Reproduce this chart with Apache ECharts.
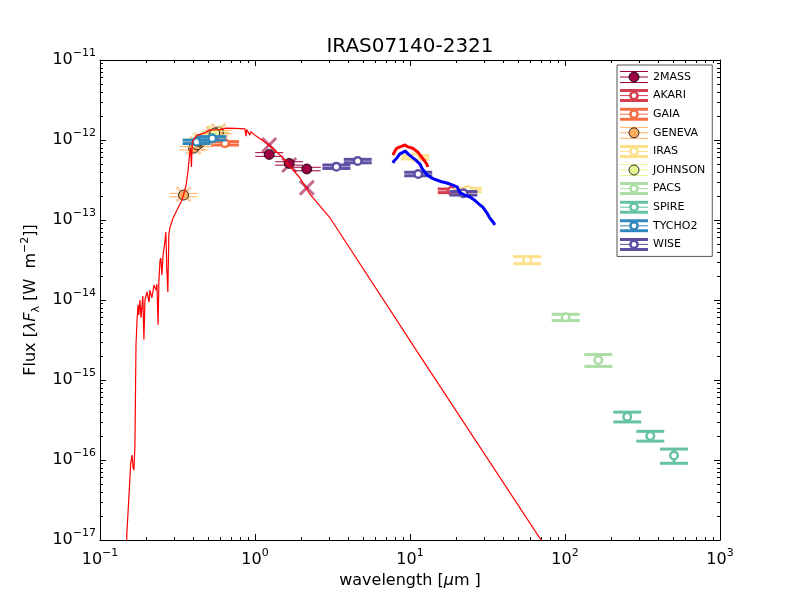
<!DOCTYPE html>
<html>
<head>
<meta charset="utf-8">
<title>IRAS07140-2321</title>
<script src="https://cdn.jsdelivr.net/npm/echarts@6/dist/echarts.min.js"></script>
<style>
html, body { margin: 0; padding: 0; background: #fff; }
#main { width: 800px; height: 600px; }
</style>
</head>
<body>
<div id="main"></div>
<script>
// model SED (thin red line), wavelength in micron, flux in W m-2
var modelWave = [0.147, 0.149, 0.1545, 0.1578, 0.161, 0.1635, 0.1655, 0.168, 0.1707, 0.1734,
  0.176, 0.178, 0.181, 0.184, 0.189, 0.192, 0.195, 0.201, 0.207, 0.210,
  0.216, 0.223, 0.230, 0.233, 0.237, 0.240, 0.244, 0.247, 0.251, 0.255,
  0.263, 0.266, 0.270, 0.274, 0.278, 0.282, 0.296, 0.314, 0.338, 0.359,
  0.369, 0.378, 0.384, 0.389, 0.394, 0.397, 0.422, 0.461, 0.511, 0.594,
  0.649, 0.75, 0.862, 0.875, 0.885, 0.91, 0.925, 0.94, 1.0, 1.11,
  1.25, 1.45, 1.68, 1.95, 2.26, 3.05, 11.6, 100];
var modelFlux = [5e-18, 1.2e-17, 4.2e-17, 9.1e-17, 1.15e-16, 8.0e-17, 7.5e-17, 1.5e-16, 2.74e-15, 5.6e-15,
  8.7e-15, 6.5e-15, 1.0e-14, 6.0e-15, 1.12e-14, 3.2e-15, 1.0e-14, 1.26e-14, 9.4e-15, 1.33e-14,
  1.06e-14, 1.54e-14, 1.33e-14, 1.58e-14, 4.9e-15, 1.78e-14, 3.16e-14, 3.35e-14, 2.05e-14, 3.6e-14,
  5.6e-14, 7.1e-14, 2.37e-14, 1.26e-14, 6.5e-14, 7.9e-14, 1.06e-13, 1.33e-13, 1.78e-13, 2.7e-13,
  4.0e-13, 6.5e-13, 8.0e-13, 4.6e-13, 9.5e-13, 1.0e-12, 1.15e-12, 1.2e-12, 1.33e-12, 1.35e-12,
  1.41e-12, 1.4e-12, 1.38e-12, 1.12e-12, 1.35e-12, 1.3e-12, 1.15e-12, 1.27e-12, 1.15e-12, 1.0e-12,
  8.4e-13, 6.5e-13, 4.7e-13, 3.35e-13, 2.1e-13, 1.06e-13, 2.0e-15, 3.5e-18];

// IR spectra
var specBlueWave = [7.76, 7.9, 8.24, 8.6, 9.0, 9.29, 9.5, 9.71, 10.3, 10.9,
  11.6, 11.9, 12.4, 12.9, 13.8, 14.9, 16.0, 17.3, 18.7, 20.1,
  21.0, 22.5, 24.4, 26.3, 28.3, 29.5, 31.4, 32.5, 33.5, 34.5, 35.3];
var specBlueFlux = [5.16e-13, 5.5e-13, 5.96e-13, 6.7e-13, 7.0e-13, 7.3e-13, 7.0e-13, 6.7e-13, 6.1e-13, 5.6e-13,
  5.0e-13, 4.5e-13, 4.0e-13, 3.65e-13, 3.35e-13, 3.16e-13, 3.0e-13, 2.9e-13, 2.75e-13, 2.6e-13,
  2.2e-13, 2.05e-13, 1.94e-13, 1.75e-13, 1.54e-13, 1.45e-13, 1.22e-13, 1.08e-13, 1.0e-13, 9.3e-14, 8.7e-14];
var specRedWave = [7.76, 8.0, 8.24, 8.8, 9.29, 9.71, 10.4, 11.2, 11.9, 12.4, 12.9, 13.0];
var specRedFlux = [6.5e-13, 7.3e-13, 7.9e-13, 8.3e-13, 8.66e-13, 8.2e-13, 7.9e-13, 7.1e-13, 6.1e-13, 5.5e-13, 4.9e-13, 4.6e-13];

// photometry: wavelength, flux, flux error, model flux (fitted systems only)
var mass2Wave = [1.235, 1.662, 2.159];
var mass2Flux = [6.6e-13, 5.1e-13, 4.34e-13];
var mass2Err = [3.5e-14, 2.5e-14, 2.2e-14];
var mass2Model = [8.66e-13, 4.87e-13, 2.53e-13];

var akariWave = [18.6];
var akariFlux = [2.32e-13];
var akariErr = [1.2e-14];

var gaiaWave = [0.64];
var gaiaFlux = [9.1e-13];
var gaiaErr = [4.5e-14];

var genevaWave = [0.346, 0.402, 0.423, 0.448, 0.540, 0.551, 0.581];
var genevaFlux = [2.05e-13, 7.9e-13, 8.7e-13, 9.4e-13, 1.15e-12, 1.19e-12, 1.26e-12];
var genevaErr = [1.0e-14, 4.0e-14, 4.3e-14, 4.7e-14, 5.7e-14, 6.0e-14, 6.3e-14];
var genevaModel = [2.1e-13, 8.2e-13, 9.0e-13, 1.0e-12, 1.2e-12, 1.22e-12, 1.3e-12];

var irasWave = [10.8, 23.6, 57];
var irasFlux = [6.08e-13, 2.37e-13, 3.16e-14];
var irasErr = [3.0e-14, 1.2e-14, 3.2e-15];

var johnsonWave = [0.44, 0.55];
var johnsonFlux = [9.8e-13, 1.22e-12];
var johnsonErr = [4.9e-14, 6.1e-14];
var johnsonModel = [1.0e-12, 1.25e-12];

var pacsWave = [101, 164];
var pacsFlux = [6.08e-15, 1.78e-15];
var pacsErr = [5.5e-16, 3.0e-16];

var spireWave = [252, 355, 505];
var spireFlux = [3.48e-16, 2.0e-16, 1.14e-16];
var spireErr = [4.9e-17, 2.8e-17, 2.3e-17];

var tychoWave = [0.42, 0.53];
var tychoFlux = [9.5e-13, 1.05e-12];
var tychoErr = [4.7e-14, 5.2e-14];

var wiseWave = [3.35, 4.6, 11.3, 22.1];
var wiseFlux = [4.64e-13, 5.46e-13, 3.76e-13, 2.16e-13];
var wiseErr = [2.3e-14, 2.7e-14, 1.9e-14, 1.1e-14];

// axis ticks
var xMajor = [0.1, 1, 10, 100, 1000];
var yMajor = [1e-17, 1e-16, 1e-15, 1e-14, 1e-13, 1e-12, 1e-11];

var FONT = 'DejaVu Sans';

function minorTicks(lo, hi) {
  var out = [];
  for (var k = lo; k < hi; k++) {
    for (var m = 2; m <= 9; m++) out.push(parseFloat((m * Math.pow(10, k)).toPrecision(3)));
  }
  return out;
}
var xMinor = minorTicks(-1, 3);
var yMinor = minorTicks(-17, -11);

function zip(w, f, e, m) {
  var rows = [];
  for (var i = 0; i < w.length; i++) {
    var r = [w[i], f[i], e[i]];
    if (m) r.push(m[i]);
    rows.push(r);
  }
  return rows;
}
function pairs(w, f) {
  return w.map(function (v, i) { return [v, f[i]]; });
}

// name, colour, filled marker?, data
var systems = [
  ['2MASS', '#9e0142', true, zip(mass2Wave, mass2Flux, mass2Err, mass2Model)],
  ['AKARI', '#d53e4f', false, zip(akariWave, akariFlux, akariErr)],
  ['GAIA', '#f46d43', false, zip(gaiaWave, gaiaFlux, gaiaErr)],
  ['GENEVA', '#fdae61', true, zip(genevaWave, genevaFlux, genevaErr, genevaModel)],
  ['IRAS', '#fee08b', false, zip(irasWave, irasFlux, irasErr)],
  ['JOHNSON', '#e6f598', true, zip(johnsonWave, johnsonFlux, johnsonErr, johnsonModel)],
  ['PACS', '#abdda4', false, zip(pacsWave, pacsFlux, pacsErr)],
  ['SPIRE', '#66c2a5', false, zip(spireWave, spireFlux, spireErr)],
  ['TYCHO2', '#3288bd', false, zip(tychoWave, tychoFlux, tychoErr)],
  ['WISE', '#5e4fa2', false, zip(wiseWave, wiseFlux, wiseErr)]
];

function legendIcon(color, filled) {
  var w = filled ? 1 : 3;
  var svg = "<svg xmlns='http://www.w3.org/2000/svg' width='28' height='14'>" +
    "<line x1='0' y1='7' x2='28' y2='7' stroke='" + color + "' stroke-width='1'/>" +
    "<line x1='0' y1='" + (filled ? 1.5 : 2) + "' x2='28' y2='" + (filled ? 1.5 : 2) + "' stroke='" + color + "' stroke-width='" + w + "'/>" +
    "<line x1='0' y1='" + (filled ? 12.5 : 12) + "' x2='28' y2='" + (filled ? 12.5 : 12) + "' stroke='" + color + "' stroke-width='" + w + "'/>" +
    (filled
      ? "<circle cx='14' cy='7' r='5' fill='" + color + "' stroke='#000' stroke-width='0.8'/>"
      : "<circle cx='14' cy='7' r='3.6' fill='#fff' stroke='" + color + "' stroke-width='2.5'/>") +
    "</svg>";
  return 'image://data:image/svg+xml;charset=utf-8,' + encodeURIComponent(svg);
}

function makeRenderer(color, filled) {
  var lw = filled ? 1 : 3;
  return function (params, api) {
    var x = api.value(0), y = api.value(1), e = api.value(2), m = api.value(3);
    var p = api.coord([x, y]);
    var top = api.coord([x, y + e]);
    var bot = api.coord([x, y - e]);
    var kids = [];
    if (isFinite(m)) {
      var q = api.coord([x, m]);
      kids.push({ type: 'line', shape: { x1: q[0] - 7, y1: q[1] - 7, x2: q[0] + 7, y2: q[1] + 7 },
        style: { stroke: color, lineWidth: 3, opacity: 0.6 } });
      kids.push({ type: 'line', shape: { x1: q[0] - 7, y1: q[1] + 7, x2: q[0] + 7, y2: q[1] - 7 },
        style: { stroke: color, lineWidth: 3, opacity: 0.6 } });
    }
    kids.push({ type: 'line', shape: { x1: p[0], y1: top[1], x2: p[0], y2: bot[1] }, style: { stroke: color, lineWidth: lw } });
    kids.push({ type: 'line', shape: { x1: p[0] - 14, y1: top[1], x2: p[0] + 14, y2: top[1] }, style: { stroke: color, lineWidth: lw } });
    kids.push({ type: 'line', shape: { x1: p[0] - 14, y1: bot[1], x2: p[0] + 14, y2: bot[1] }, style: { stroke: color, lineWidth: lw } });
    if (filled) {
      kids.push({ type: 'circle', shape: { cx: p[0], cy: p[1], r: 5 }, style: { fill: color, stroke: '#000', lineWidth: 0.8 } });
    } else {
      kids.push({ type: 'circle', shape: { cx: p[0], cy: p[1], r: 3.8 }, style: { fill: '#fff', stroke: color, lineWidth: 2.5 } });
    }
    return { type: 'group', children: kids };
  };
}

function powLabel(v) {
  var e = Math.round(Math.log10(v));
  return '{b|10}{s|' + String(e).replace('-', '\u2212') + '}';
}
var labelRich = {
  b: { fontFamily: FONT, fontSize: 16, color: '#000', lineHeight: 24 },
  s: { fontFamily: FONT, fontSize: 11, color: '#000', verticalAlign: 'top' }
};

function logX(pos, major) {
  return {
    type: 'log', logBase: 10, min: 0.1, max: 1000, position: pos, gridIndex: 0,
    axisLine: { show: major, lineStyle: { color: '#000', width: 1 } },
    axisTick: { show: true, inside: true, length: major ? 6 : 3, lineStyle: { color: '#000' },
      customValues: major ? xMajor : xMinor },
    axisLabel: { show: major && pos === 'bottom', customValues: xMajor, margin: 8,
      formatter: powLabel, rich: labelRich },
    splitLine: { show: false }
  };
}
function logY(pos, major) {
  return {
    type: 'log', logBase: 10, min: 1e-17, max: 1e-11, position: pos, gridIndex: 0,
    axisLine: { show: major, lineStyle: { color: '#000', width: 1 } },
    axisTick: { show: true, inside: true, length: major ? 6 : 3, lineStyle: { color: '#000' },
      customValues: major ? yMajor : yMinor },
    axisLabel: { show: major && pos === 'left', customValues: yMajor, margin: 4,
      formatter: powLabel, rich: labelRich },
    splitLine: { show: false }
  };
}

var xAxes = [logX('bottom', true), logX('bottom', false), logX('top', true), logX('top', false)];
var yAxes = [logY('left', true), logY('left', false), logY('right', true), logY('right', false)];

xAxes[0].name = 'wavelength [{i|\u03bc}m ]';
xAxes[0].nameLocation = 'middle';
xAxes[0].nameGap = 32;
xAxes[0].nameTextStyle = { fontFamily: FONT, fontSize: 16, color: '#000',
  rich: { i: { fontFamily: FONT, fontSize: 16, fontStyle: 'italic', color: '#000' } } };

yAxes[0].name = 'Flux [{i|\u03bbF}{sub|\u03bb} [W  m{sup|\u22122}]]';
yAxes[0].nameLocation = 'middle';
yAxes[0].nameGap = 50;
yAxes[0].nameTextStyle = { fontFamily: FONT, fontSize: 16, color: '#000', lineHeight: 22,
  rich: {
    i: { fontFamily: FONT, fontSize: 16, fontStyle: 'italic', color: '#000', lineHeight: 22 },
    sub: { fontFamily: FONT, fontSize: 11, color: '#000', verticalAlign: 'bottom' },
    sup: { fontFamily: FONT, fontSize: 11, color: '#000', verticalAlign: 'top' }
  } };

var series = [
  { name: 'model', type: 'line', data: pairs(modelWave, modelFlux), showSymbol: false,
    lineStyle: { color: '#ff0000', width: 1.2 }, itemStyle: { color: '#ff0000' }, clip: true, animation: false },
  { name: 'spec2', type: 'line', data: pairs(specBlueWave, specBlueFlux), showSymbol: false,
    lineStyle: { color: '#0000ff', width: 3 }, itemStyle: { color: '#0000ff' }, clip: true, animation: false },
  { name: 'spec1', type: 'line', data: pairs(specRedWave, specRedFlux), showSymbol: false,
    lineStyle: { color: '#ff0000', width: 3 }, itemStyle: { color: '#ff0000' }, clip: true, animation: false }
];
systems.forEach(function (s) {
  series.push({
    name: s[0], type: 'custom', data: s[3], encode: { x: 0, y: 1 },
    itemStyle: { color: s[1] }, renderItem: makeRenderer(s[1], s[2]), animation: false
  });
});

var chart = echarts.init(document.getElementById('main'));
chart.setOption({
  backgroundColor: '#fff',
  animation: false,
  title: {
    text: 'IRAS07140-2321', left: 410, top: 37, textAlign: 'center', padding: 0,
    textStyle: { fontFamily: FONT, fontSize: 20, fontWeight: 'normal', color: '#000' }
  },
  grid: { left: 100, right: 80, top: 60, bottom: 60, containLabel: false },
  legend: {
    orient: 'vertical', left: 617, top: 65,
    itemWidth: 28, itemHeight: 14, itemGap: 4.6,
    padding: [5, 7, 5, 3],
    borderColor: '#555', borderWidth: 1, backgroundColor: '#fff',
    selectedMode: false,
    textStyle: { fontFamily: FONT, fontSize: 11, color: '#000' },
    data: systems.map(function (s) { return { name: s[0], icon: legendIcon(s[1], s[2]) }; })
  },
  xAxis: xAxes,
  yAxis: yAxes,
  series: series
});
</script>
</body>
</html>
